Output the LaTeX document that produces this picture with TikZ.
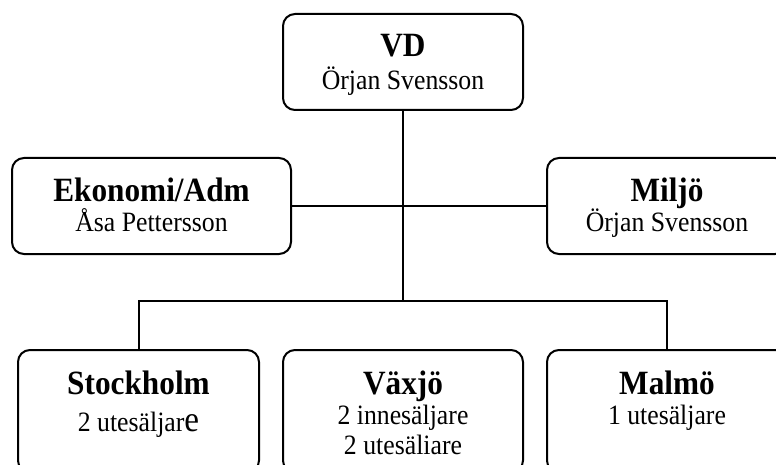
\documentclass[tikz,border=0pt]{standalone}
\usepackage{fontspec}
\setmainfont{Liberation Serif}[FakeStretch=0.92]
\usetikzlibrary{positioning}

\newcommand{\unithead}[1]{{\fontsize{34}{30}\selectfont\bfseries #1}}
\lineskiplimit=-30pt

\begin{document}
\begin{tikzpicture}[x=1pt,y=-1pt,line width=2pt]
\tikzset{unit/.style={draw,rounded corners=12pt,inner sep=0pt,align=flush center,font=\fontsize{28}{30}\selectfont,
    anchor=north,minimum width=240pt,text width=240pt,text height=43pt,text depth=53pt},
  office/.style={unit,text height=44.5pt,text depth=78pt}}

\useasboundingbox (0,0) rectangle (776,465);
\clip (0,0) rectangle (776,465);

  \node(VD) [unit] at (403,13) {\unithead{VD}\\[3pt] Örjan Svensson};
  \node(EK) [unit,minimum width=279pt,text width=279pt] at (151.5,157) {\unithead{Ekonomi/Adm}\\ Åsa Pettersson};
  \node(MI) [unit] at (667,157) {\unithead{Miljö}\\ Örjan Svensson};

  \node(ST) [office,minimum width=241pt,text width=241pt] at (138.5,349) {\unithead{Stockholm}\\[7pt] 2 utesäljar{\fontsize{36}{30}\selectfont e}};
  \node(VX) [office] at (403,349) {\unithead{Växjö}\\ 2 innesäljare\\ 2 utesäliare};
  \node(MA) [office] at (667,349) {\unithead{Malmö}\\ 1 utesäljare};

  \coordinate(bus) at (403,301);
  \draw (VD.south) -- (bus);
  \draw (EK.east) -- (MI.west);
  \draw (ST.north) |- (bus) -| (MA.north);
\end{tikzpicture}
\end{document}
